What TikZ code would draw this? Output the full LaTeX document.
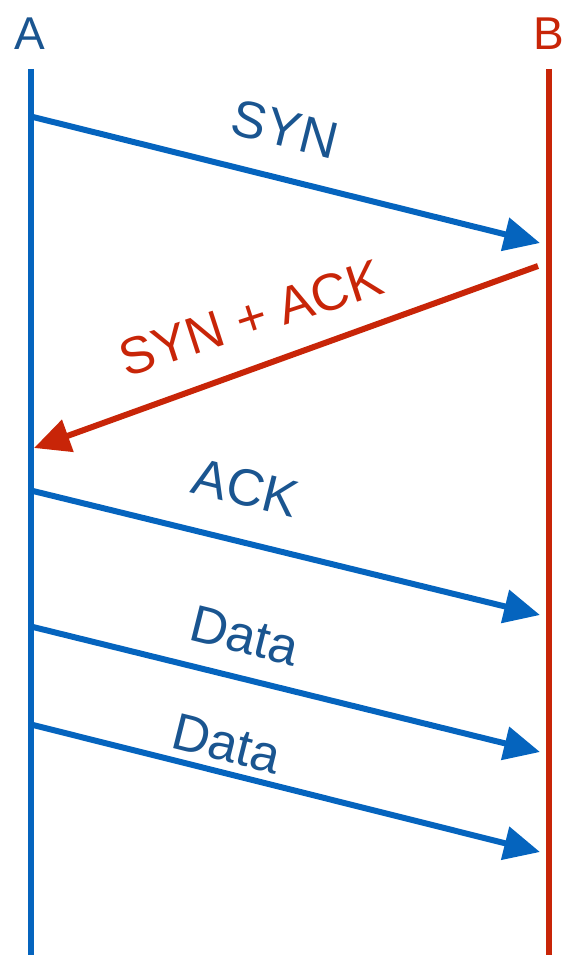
\documentclass[tikz,border=0pt]{standalone}
\usepackage{fontspec}
\setmainfont{Liberation Sans}
\usetikzlibrary{arrows.meta}
\definecolor{lineblue}{HTML}{0564BE}
\definecolor{textblue}{HTML}{1A5590}
\definecolor{brred}{HTML}{C82508}
\tikzset{
  lifeline/.style={line width=6pt},
  msg/.style={line width=6pt, -{Triangle[length=36pt,width=33pt]}},
  msglabel/.style={inner sep=0pt, font=\fontsize{52}{62}\selectfont},
  endlabel/.style={inner sep=0pt, font=\fontsize{46}{55}\selectfont}
}
\begin{document}
\begin{tikzpicture}[x=1pt,y=-1pt]
\useasboundingbox (0,0) rectangle (567,955);
% end labels
\node[endlabel, text=textblue] (A) at (30,34) {A};
\node[endlabel, text=brred] (B) at (549,34) {B};
% lifelines
\coordinate (Atop) at (31,69);
\coordinate (Abot) at (31,955);
\coordinate (Btop) at (549,69);
\coordinate (Bbot) at (549,955);
\draw[lifeline, lineblue] (Atop) -- (Abot);
\draw[lifeline, brred] (Btop) -- (Bbot);
% message end points
\coordinate (s1) at (33,117);  \coordinate (e1) at (540,243);
\coordinate (s2) at (538,266); \coordinate (e2) at (34,448);
\coordinate (s3) at (33,491);  \coordinate (e3) at (540,615);
\coordinate (s4) at (33,627);  \coordinate (e4) at (540,752);
\coordinate (s5) at (33,725);  \coordinate (e5) at (540,852);
% messages
\draw[msg, lineblue] (s1) -- (e1);
\draw[msg, brred] (s2) -- (e2);
\draw[msg, lineblue] (s3) -- (e3);
\draw[msg, lineblue] (s4) -- (e4);
\draw[msg, lineblue] (s5) -- (e5);
% labels
\node[msglabel, text=textblue, rotate=-14] (l1) at (285,129) {SYN};
\node[msglabel, text=brred, rotate=18] (l2) at (251,318) {SYN + ACK};
\node[msglabel, text=textblue, rotate=-14] (l3) at (246,488) {ACK};
\node[msglabel, text=textblue, rotate=-14] (l4) at (245,636) {Data};
\node[msglabel, text=textblue, rotate=-14] (l5) at (227,744) {Data};
\end{tikzpicture}
\end{document}
